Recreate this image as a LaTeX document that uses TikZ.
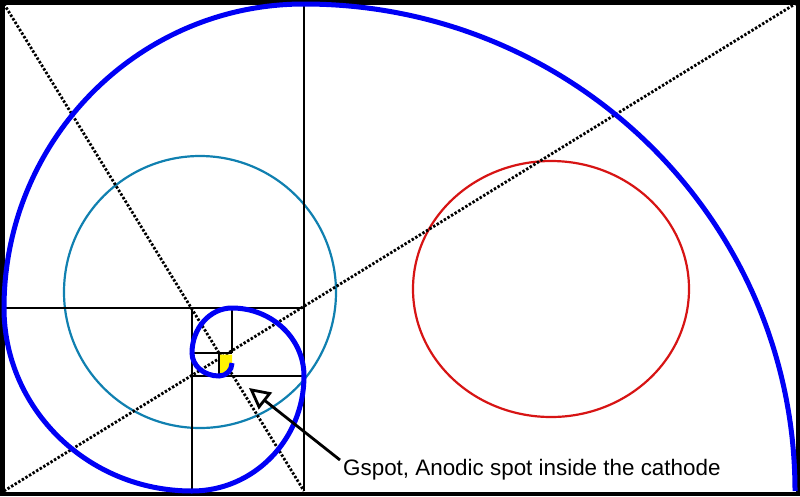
\documentclass[tikz,border=0pt]{standalone}
\usepackage{fontspec}
\setmainfont{Liberation Sans}
\usetikzlibrary{arrows.meta}
\definecolor{spiralblue}{RGB}{0,0,245}
\definecolor{cyanring}{RGB}{16,128,176}
\definecolor{redring}{RGB}{215,20,20}
\begin{document}
\begin{tikzpicture}[x=1pt,y=-1pt,
  gridline/.style={line width=2.8pt, black},
  diag/.style={line width=2.8pt, dash pattern=on 2.4pt off 1.8pt, black},
  spiral/.style={line width=5pt, spiralblue},
  ring/.style={line width=2.2pt}]
\fill[white] (0,0) rectangle (800,496);
\useasboundingbox (0,0) rectangle (800,496);
% circles
\draw[ring, cyanring] (200,292) circle[radius=136];
\draw[ring, redring] (551,289) ellipse[x radius=138, y radius=128];
% diagonals
\draw[diag] (4,4) -- (304,491);
\draw[diag] (4,491) -- (795,4);
% squares
\draw[gridline] (304,4) -- (304,491);
\draw[gridline] (4,308) -- (304,308);
\draw[gridline] (192,308) -- (192,491);
\draw[gridline] (192,376) -- (304,376);
\draw[gridline] (232,308) -- (232,353);
\draw[gridline] (192,353) -- (232,353);
\draw[gridline] (219,353) -- (219,376);
% yellow eye
\fill[yellow] (220,354.5) -- (232,354.5) -- (232,363) arc[start angle=0, end angle=90, radius=12] -- cycle;
% border
\draw[line width=4.5pt] (2.25,2.25) rectangle (797.75,493.75);
% spiral
\draw[spiral] (795,491)
  arc[start angle=360, end angle=270, x radius=491, y radius=487]
  arc[start angle=270, end angle=180, x radius=300, y radius=304]
  arc[start angle=180, end angle=90, x radius=188, y radius=183]
  arc[start angle=90, end angle=0, x radius=112, y radius=115]
  arc[start angle=0, end angle=-90, x radius=72, y radius=68]
  arc[start angle=270, end angle=180, x radius=40, y radius=45]
  arc[start angle=180, end angle=90, x radius=27, y radius=23]
  arc[start angle=90, end angle=0, x radius=13, y radius=13];
% label and arrow
\node[anchor=base west, inner sep=0pt, font=\fontsize{22.4}{26}\selectfont] (label) at (343,475) {Gspot, Anodic spot inside the cathode};
\coordinate (tail) at (340,460);
\coordinate (tip) at (249,388);
\draw[line width=2.8pt, -{Triangle[open, length=21pt, width=21pt]}] (tail) -- (tip);
\end{tikzpicture}
\end{document}
